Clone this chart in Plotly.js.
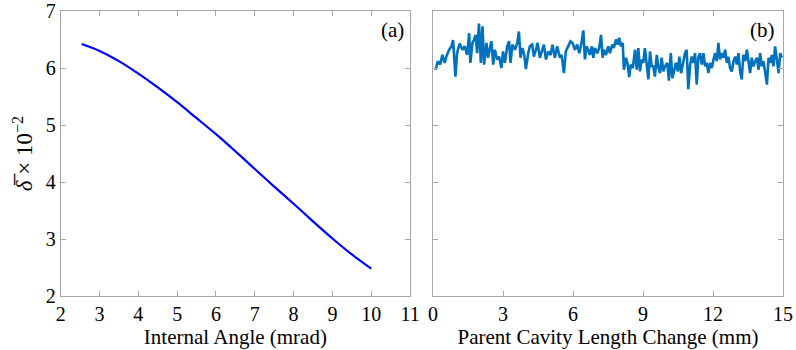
<!DOCTYPE html>
<html>
<head>
<meta charset="utf-8">
<script src="https://cdn.plot.ly/plotly-3.0.1.min.js"></script>
<style>html,body{margin:0;padding:0;background:#fff;}#chart{width:796px;height:350px;}</style>
</head>
<body>
<div id="chart"></div>
<script>
// Panel (a): internal angle (mrad) vs delta x 10^-2
const angleX = [2.54, 3.0, 3.5, 4.0, 4.5, 5.0, 5.5, 6.0, 6.5, 7.0, 7.5, 8.0, 8.5, 9.0, 9.5, 10.0];
const angleY = [6.42, 6.30, 6.12, 5.90, 5.66, 5.40, 5.12, 4.84, 4.54, 4.23, 3.92, 3.62, 3.31, 3.01, 2.73, 2.48];

// Panel (b): parent cavity length change (mm) vs delta x 10^-2
const cavX = [0.11,0.21,0.31,0.40,0.50,0.57,0.69,0.79,0.86,0.96,1.03,1.14,1.26,1.36,1.46,1.55,1.60,1.69,1.76,1.83,1.89,1.97,2.05,2.12,2.19,2.29,2.36,2.43,2.50,2.58,2.65,2.75,2.83,2.93,3.00,3.08,3.18,3.26,3.32,3.40,3.51,3.61,3.68,3.75,3.83,3.91,3.98,4.08,4.15,4.25,4.32,4.41,4.48,4.58,4.65,4.75,4.84,4.94,5.04,5.12,5.22,5.32,5.44,5.51,5.61,5.69,5.79,5.89,5.98,6.08,6.18,6.27,6.35,6.44,6.51,6.58,6.65,6.72,6.81,6.87,6.94,7.04,7.12,7.20,7.27,7.32,7.41,7.51,7.58,7.68,7.75,7.84,7.91,7.98,8.05,8.13,8.18,8.27,8.33,8.41,8.47,8.56,8.66,8.73,8.80,8.87,8.94,9.01,9.08,9.16,9.23,9.30,9.37,9.44,9.51,9.59,9.66,9.73,9.80,9.87,9.94,10.04,10.11,10.19,10.26,10.34,10.41,10.49,10.56,10.63,10.73,10.80,10.87,10.94,11.02,11.09,11.16,11.23,11.30,11.37,11.44,11.52,11.59,11.66,11.73,11.80,11.87,11.95,12.02,12.09,12.16,12.23,12.30,12.37,12.45,12.52,12.59,12.66,12.73,12.80,12.88,12.95,13.02,13.09,13.16,13.23,13.30,13.38,13.45,13.52,13.59,13.66,13.73,13.81,13.88,13.95,14.02,14.09,14.16,14.23,14.31,14.38,14.45,14.52,14.59,14.66,14.74,14.81,14.88,14.95];
const cavY = [5.97,6.12,6.06,6.23,6.09,6.20,6.32,6.38,6.49,5.85,6.26,6.43,6.32,6.38,6.23,6.61,6.09,6.44,6.50,6.58,6.26,6.78,6.09,6.73,6.06,6.44,6.18,6.32,6.47,6.06,6.32,6.15,6.20,6.00,6.29,6.09,6.38,6.47,6.09,6.41,6.32,6.44,6.64,6.18,6.35,6.23,5.98,6.26,6.38,6.41,6.20,6.32,6.44,6.18,6.29,6.41,6.15,6.29,6.23,6.41,6.18,6.38,6.18,6.23,5.91,6.29,6.38,6.47,6.44,6.32,6.41,6.26,6.41,6.66,6.15,6.38,6.32,6.23,6.38,6.18,6.35,6.26,6.35,6.58,6.18,6.32,6.23,6.38,6.26,6.41,6.35,6.50,6.41,6.53,6.38,6.44,5.97,6.18,6.09,5.84,6.06,6.00,6.32,5.97,6.35,5.94,6.15,6.09,6.35,6.06,5.80,6.29,6.03,6.03,5.85,6.23,6.00,5.91,6.18,5.94,6.03,6.09,5.78,6.26,5.82,5.97,6.09,5.94,6.20,5.91,6.12,6.26,6.32,5.63,6.06,6.20,6.09,6.26,5.71,6.18,6.26,6.06,6.26,6.03,6.09,5.91,6.09,6.00,6.15,6.26,6.12,6.44,6.15,6.26,6.18,6.32,6.09,6.20,6.00,5.94,6.12,6.20,6.06,6.26,5.94,5.80,6.23,6.12,6.32,6.09,5.91,6.18,6.03,6.12,6.18,5.97,6.26,6.03,6.12,5.94,5.71,6.18,6.09,6.23,6.03,6.38,6.12,5.91,6.26,6.18];

const xTicksA = [2,3,4,5,6,7,8,9,10,11];
const xTicksB = [0,3,6,9,12,15];
const yTicks = [2,3,4,5,6,7];

const FONT = 'Liberation Serif, Times New Roman, serif';
const frame = '#a6a6a6';

const traces = [
  {x: angleX, y: angleY, type: 'scatter', mode: 'lines', line: {color: '#0000ff', width: 2.2, shape: 'spline', smoothing: 0.8}, xaxis: 'x', yaxis: 'y', hoverinfo: 'skip'},
  {x: cavX, y: cavY, type: 'scatter', mode: 'lines', line: {color: '#0072bd', width: 2.6}, xaxis: 'x2', yaxis: 'y2', hoverinfo: 'skip'}
];

const axCommon = {
  showgrid: false, zeroline: false, showline: true, linecolor: frame, linewidth: 1,
  mirror: 'ticks', ticks: 'inside', ticklen: 5, tickcolor: frame, tickwidth: 1,
  ticklabeloverflow: 'allow',
  tickfont: {family: FONT, size: 20, color: '#000'}
};

const layout = {
  width: 796, height: 350,
  margin: {l: 0, r: 0, t: 0, b: 0},
  paper_bgcolor: '#fff', plot_bgcolor: '#fff',
  showlegend: false,
  font: {family: FONT, color: '#000'},
  xaxis: Object.assign({}, axCommon, {
    domain: [0.0763, 0.5151], range: [2, 11], tickvals: xTicksA, ticktext: xTicksA.map(String),
    anchor: 'y',
    title: {text: 'Internal Angle (mrad)', font: {family: FONT, size: 21, color: '#000'}, standoff: 0}
  }),
  yaxis: Object.assign({}, axCommon, {
    domain: [0.154, 0.9686], range: [2, 7], tickvals: yTicks, ticktext: yTicks.map(String),
    anchor: 'x',
    title: {text: '<i>δ\u0305</i> × 10<sup>−2</sup>', font: {family: FONT, size: 23, color: '#000'}, standoff: 6}
  }),
  xaxis2: Object.assign({}, axCommon, {
    domain: [0.544, 0.9837], range: [0, 15], tickvals: xTicksB, ticktext: xTicksB.map(String),
    anchor: 'y2',
    title: {text: 'Parent Cavity Length Change (mm)', font: {family: FONT, size: 21, color: '#000'}, standoff: 0}
  }),
  yaxis2: Object.assign({}, axCommon, {
    domain: [0.154, 0.9686], range: [2, 7], tickvals: yTicks, showticklabels: false,
    anchor: 'x2'
  }),
  annotations: [
    {text: '(a)', xref: 'x domain', yref: 'y domain', x: 0.95, y: 0.935, showarrow: false, xanchor: 'center', yanchor: 'middle', font: {family: FONT, size: 21, color: '#000'}},
    {text: '(b)', xref: 'x2 domain', yref: 'y2 domain', x: 0.94, y: 0.935, showarrow: false, xanchor: 'center', yanchor: 'middle', font: {family: FONT, size: 21, color: '#000'}}
  ]
};

Plotly.newPlot('chart', traces, layout, {staticPlot: true, displayModeBar: false});
</script>
</body>
</html>
